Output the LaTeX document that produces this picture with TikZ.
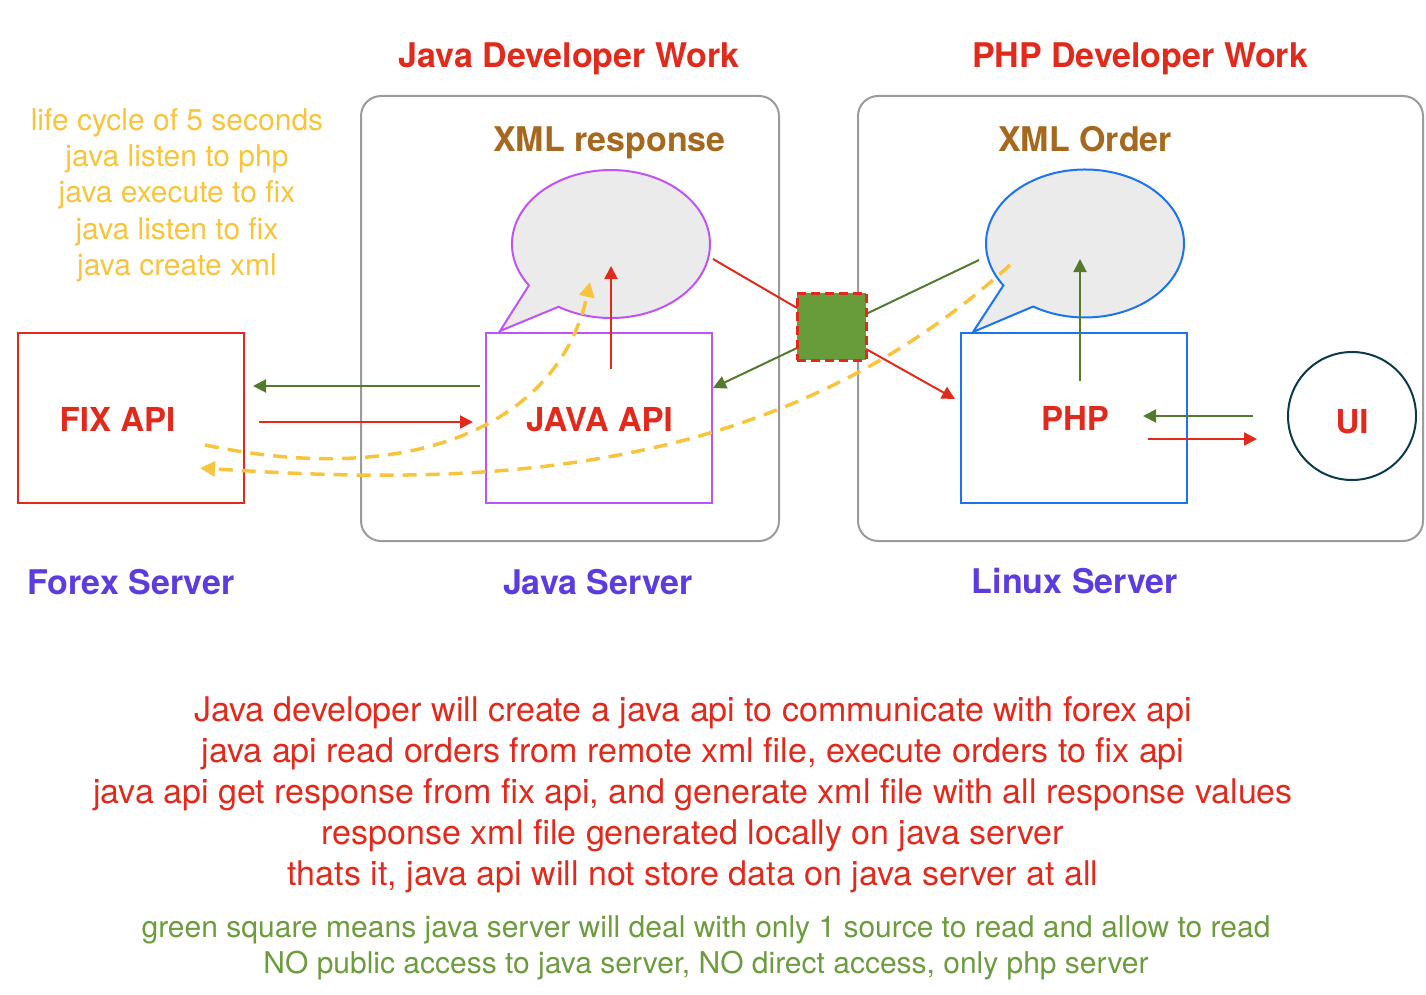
\documentclass[tikz,border=0pt]{standalone}
\usepackage{fontspec}
\setmainfont{TeX Gyre Heros}
\usetikzlibrary{arrows.meta,shapes.geometric}
\definecolor{cred}{RGB}{226,42,28}
\definecolor{cyel}{RGB}{248,196,60}
\definecolor{cbrown}{RGB}{166,104,30}
\definecolor{cpurp}{RGB}{92,60,222}
\definecolor{cgtext}{RGB}{108,156,62}
\definecolor{cgsq}{RGB}{104,155,58}
\definecolor{cgarr}{RGB}{85,122,46}
\definecolor{cjava}{RGB}{190,84,245}
\definecolor{cphp}{RGB}{26,115,240}
\definecolor{cui}{RGB}{12,58,75}
\definecolor{cgray}{RGB}{155,155,155}
\definecolor{cbub}{RGB}{235,235,235}
\begin{document}
\begin{tikzpicture}[x=1pt,y=-1pt,
  container/.style={draw=cgray, line width=2pt, rounded corners=20pt, inner sep=0pt},
  srvbox/.style={draw, line width=2pt, minimum width=226pt, minimum height=170pt, inner sep=0pt},
  blbl/.style={font=\fontsize{33}{40}\selectfont\bfseries, anchor=base, inner sep=0pt},
  hlbl/.style={font=\fontsize{34}{40}\selectfont\bfseries, anchor=base, inner sep=0pt},
  rtxt/.style={font=\fontsize{34}{41}\selectfont, anchor=base, inner sep=0pt, text=cred},
  gtxt/.style={font=\fontsize{30}{36}\selectfont, anchor=base, inner sep=0pt, text=cgtext},
  ytxt/.style={font=\fontsize{30}{36}\selectfont, anchor=base, inner sep=0pt, text=cyel},
  arr/.style={line width=2pt, -{Triangle[length=13pt,width=13pt]}},
  plainln/.style={line width=2pt},
  yarr/.style={draw=cyel, line width=3.5pt, dash pattern=on 14pt off 9pt, -{Triangle[length=15pt,width=15pt]}},
  bubble/.style={fill=cbub, line width=2pt, line join=miter}
]
\useasboundingbox (0,0) rectangle (1426,995);

% containers
\node[container, minimum width=418pt, minimum height=445pt] (jcont) at (570,318.5) {};
\node[container, minimum width=565pt, minimum height=445pt] (pcont) at (1140.5,318.5) {};

% headings
\node[hlbl, text=cred] (jdw) at (569,68) {Java Developer Work};
\node[hlbl, text=cred] (pdw) at (1140,68) {PHP Developer Work};
\node[hlbl, text=cbrown] (xr) at (609.5,152) {XML response};
\node[hlbl, text=cbrown] (xo) at (1085,152) {XML Order};

% life cycle text
\foreach \t [count=\i from 0] in {life cycle of 5 seconds, java listen to php, java execute to fix, java listen to fix, java create xml}
  \node[ytxt] (lc\i) at (177,131+36*\i) {\t};

% bubbles
\draw[bubble, draw=cjava] (558.5,306.8) -- (500,331) -- (528.9,285.4)
  arc[start angle=146, end angle=482, x radius=99, y radius=74] -- cycle;
\draw[bubble, draw=cphp] (1032.5,306.8) -- (973,332) -- (1003.4,285.4)
  arc[start angle=145.5, end angle=481.5, x radius=99, y radius=74] -- cycle;

% server boxes
\node[srvbox, draw=cred] (fix) at (131,418) {};
\node[srvbox, draw=cjava] (java) at (599,418) {};
\node[srvbox, draw=cphp] (php) at (1074,418) {};
\node[circle, draw=cui, line width=2pt, minimum size=128pt, inner sep=0pt] (ui) at (1352,416) {};

\node[blbl, text=cred] (fixl) at (117.5,431) {FIX API};
\node[blbl, text=cred] (javal) at (599.5,431) {JAVA API};
\node[blbl, text=cred] (phpl) at (1075,430) {PHP};
\node[blbl, text=cred] (uil) at (1352,433) {UI};

% server labels
\node[hlbl, text=cpurp] (fs) at (131,594) {Forex Server};
\node[hlbl, text=cpurp] (js) at (598,594) {Java Server};
\node[hlbl, text=cpurp] (ls) at (1075,593) {Linux Server};

% coordinates for connector ends
\coordinate (jbub) at (713,259);
\coordinate (pbub) at (979,260);
\coordinate (sqw1) at (797,308);
\coordinate (sqw2) at (797,348);
\coordinate (sqe1) at (866,314);
\coordinate (sqe2) at (866,349);
\coordinate (javain) at (713,388);
\coordinate (phpin) at (955,399);
\coordinate (jup0) at (611,369);
\coordinate (jup1) at (611,266);
\coordinate (pup0) at (1080,381);
\coordinate (pup1) at (1080,259);
\coordinate (jfix0) at (480,386);
\coordinate (jfix1) at (253,386);
\coordinate (fj0) at (259,422);
\coordinate (fj1) at (473,422);
\coordinate (up0) at (1253,416);
\coordinate (up1) at (1143,416);
\coordinate (pu0) at (1148,439);
\coordinate (pu1) at (1257,439);
\coordinate (y1a) at (205,445);
\coordinate (y1b) at (590,282);
\coordinate (y2a) at (1010,265);
\coordinate (y2b) at (200,468);

% arrows
\draw[arr, draw=cred, fill=cred] (jup0) -- (jup1);
\draw[arr, draw=cgarr, fill=cgarr] (pup0) -- (pup1);
\draw[arr, draw=cgarr, fill=cgarr] (jfix0) -- (jfix1);
\draw[arr, draw=cred, fill=cred] (fj0) -- (fj1);
\draw[arr, draw=cgarr, fill=cgarr] (up0) -- (up1);
\draw[arr, draw=cred, fill=cred] (pu0) -- (pu1);
\draw[plainln, draw=cred] (jbub) -- (sqw1);
\draw[plainln, draw=cgarr] (sqe1) -- (pbub);
\draw[arr, draw=cgarr, fill=cgarr] (sqw2) -- (javain);
\draw[arr, draw=cred, fill=cred] (sqe2) -- (phpin);

% yellow dashed curves
\draw[yarr] (y1a) .. controls (420,490) and (560,420) .. (y1b);
\draw[yarr] (y2a) .. controls (763,490) and (450,484) .. (y2b);

% green square
\node[draw=cred, fill=cgsq, line width=3pt, dash pattern=on 9pt off 5pt, minimum width=69pt, minimum height=67pt, inner sep=0pt] (gsq) at (831.5,326.5) {};

% bottom texts
\foreach \t [count=\i from 0] in {Java developer will create a java api to communicate with forex api,
  {java api read orders from remote xml file, execute orders to fix api},
  {java api get response from fix api, and generate xml file with all response values},
  response xml file generated locally on java server,
  {thats it, java api will not store data on java server at all}}
  \node[rtxt] (rt\i) at (693,721+41*\i) {\t};
\node[gtxt] (gt0) at (706,937) {green square means java server will deal with only 1 source to read and allow to read};
\node[gtxt] (gt1) at (706,973) {NO public access to java server, NO direct access, only php server};
\end{tikzpicture}
\end{document}
